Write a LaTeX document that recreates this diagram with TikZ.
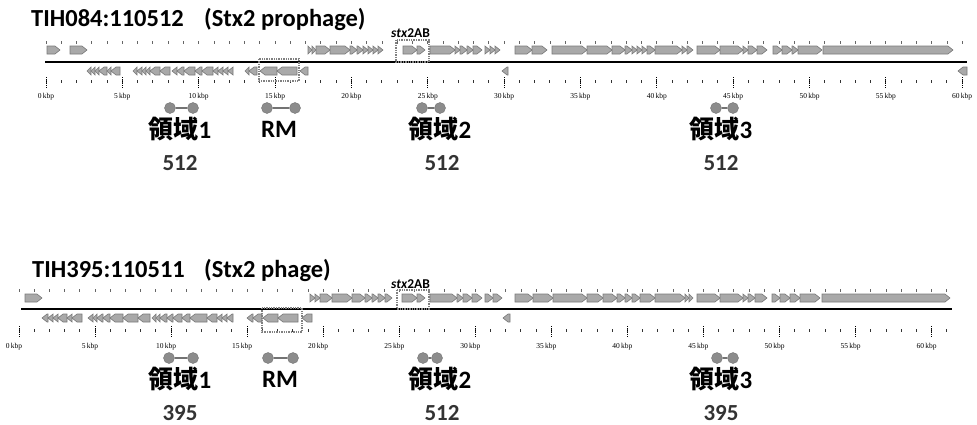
\documentclass[tikz,border=0pt]{standalone}
\usepackage{fontspec}
\setmainfont{Carlito}
\newfontfamily\cjk{Noto Sans CJK JP}
\newfontfamily\kbpfont{Liberation Serif}
\definecolor{genefill}{HTML}{A9A9A9}
\definecolor{geneline}{HTML}{7A7A7A}
\definecolor{dotgray}{HTML}{8C8C8C}
\definecolor{boxgray}{HTML}{808080}
\tikzset{
  gene/.style={fill=genefill,draw=geneline,line width=0.6pt},
  axisline/.style={line width=2.2pt,black},
  updot/.style={line width=0.8pt,black!60},
  minortick/.style={line width=0.9pt,black!80},
  majortick/.style={line width=1pt,black,densely dotted},
  kbp/.style={font=\kbpfont\fontsize{7.5}{8}\selectfont,inner sep=0pt},
  regionbox/.style={draw=boxgray,line width=1.4pt,densely dotted},
  dumb/.style={circle,fill=dotgray,draw=black!55,line width=0.4pt,minimum size=11pt,inner sep=0pt},
  dumbbar/.style={line width=2.2pt,black!55},
  title/.style={font=\fontsize{24.5}{28}\selectfont\bfseries,anchor=base west,inner sep=0pt},
  stxlab/.style={font=\fontsize{13.5}{15}\selectfont\bfseries,anchor=base west,inner sep=0pt},
  reglab/.style={font=\fontsize{25}{29}\selectfont\bfseries,inner sep=0pt},
  numlab/.style={font=\fontsize{23}{27}\selectfont\bfseries,text=black!80,inner sep=0pt,anchor=base}
}
\newcommand\fg[3]{%
  \pgfmathsetmacro\gA{min(5,#2-#1)}%
  \draw[gene] (#1,#3-4) -- (#2-\gA,#3-4) -- (#2,#3) -- (#2-\gA,#3+4) -- (#1,#3+4) -- cycle;}
\newcommand\rg[3]{%
  \pgfmathsetmacro\gA{min(5,#2-#1)}%
  \draw[gene] (#1,#3) -- (#1+\gA,#3-4) -- (#2,#3-4) -- (#2,#3+4) -- (#1+\gA,#3+4) -- cycle;}
\begin{document}
\begin{tikzpicture}[x=1pt,y=-1pt]
\useasboundingbox[fill=white] (0,0) rectangle (977,424);

% ================= TOP TRACK =================
\node[title] (t1a) at (31,26) {TIH084:110512};
\node[title] (t1b) at (204,26) {(Stx2 prophage)};
\node[stxlab] (stx1) at (391,37) {\textit{stx}2AB};

\foreach \k in {0,...,60} {
  \pgfmathsetmacro\xx{46+15.27*\k}
  \draw[updot] (\xx,41) -- (\xx,43.5);
  \draw[minortick] (\xx,80) -- (\xx,83);
}
\foreach \k in {0,5,...,60} {
  \pgfmathsetmacro\xx{46+15.27*\k}
  \draw[majortick] (\xx,77) -- (\xx,89);
  \node[kbp] at (\xx,97) {\k\,kbp};
}
\draw[axisline] (45,62) -- (967,62);

\foreach \a/\b in {47/60,70/87,308/312,312/316,316/330,330/350,350/357,357/363,363/368,368/373,373/378,378/383,
  403/417,417/425,430/455,455/460,460/467,467/473,473/482,485/490,490/495,495/500,515/532,532/547,552/587,587/612,612/625,625/632,
  632/637,637/642,642/647,647/655,655/682,682/687,687/693,697/720,720/743,743/748,748/757,757/767,773/782,782/792,792/798,798/822,823/953}
  {\fg{\a}{\b}{50}}
\foreach \a/\b in {87/91,91/95,95/99,99/107,107/111,111/120,133/137,137/142,142/146,146/150,150/160,160/170,172/177,177/184,184/195,195/202,202/213,213/218,218/223,223/228,228/233,
  245/249,249/257,260/277,277/297,300/308,502/508,958/967}
  {\rg{\a}{\b}{71}}

\draw[regionbox] (396,40) rectangle (429,62);
\draw[regionbox] (259,59) rectangle (299,81);

\node[dumb] (d1a) at (170,108) {};
\node[dumb] (d1b) at (193,108) {};
\node[dumb] (d1c) at (267,108) {};
\node[dumb] (d1d) at (295,108) {};
\node[dumb] (d1e) at (422,108) {};
\node[dumb] (d1f) at (440,108) {};
\node[dumb] (d1g) at (716,108) {};
\node[dumb] (d1h) at (733,108) {};
\draw[dumbbar] (d1a) -- (d1b);
\draw[dumbbar] (d1c) -- (d1d);
\draw[dumbbar] (d1e) -- (d1f);
\draw[dumbbar] (d1g) -- (d1h);

\node[reglab] (r11) at (180,129) {{\cjk 領域}1};
\node[reglab] (r1m) at (279,129) {RM};
\node[reglab] (r12) at (440,129) {{\cjk 領域}2};
\node[reglab] (r13) at (721,129) {{\cjk 領域}3};
\node[numlab] (n11) at (180,170) {512};
\node[numlab] (n12) at (442,170) {512};
\node[numlab] (n13) at (721,170) {512};

% ================= BOTTOM TRACK =================
\node[title] (t2a) at (32,277) {TIH395:110511};
\node[title] (t2b) at (204,277) {(Stx2 phage)};
\node[stxlab] (stx2) at (391,288) {\textit{stx}2AB};

\foreach \k in {0,...,61} {
  \pgfmathsetmacro\xx{19+15.21*\k}
  \draw[updot] (\xx,289) -- (\xx,291.5);
  \draw[minortick] (\xx,329) -- (\xx,332);
}
\foreach \k in {0,5,...,60} {
  \pgfmathsetmacro\xx{19+15.21*\k}
  \draw[majortick] (\xx,326) -- (\xx,338);
  \node[kbp] at (\xx-5,347) {\k\,kbp};
}
\draw[axisline] (21,309) -- (952,309);

\foreach \a/\b in {25/42,310/315,315/320,320/332,332/352,352/365,365/372,372/378,378/385,385/392,
  402/417,417/425,430/457,457/463,463/472,472/482,485/493,493/502,515/533,533/553,553/587,587/603,603/617,617/625,625/632,
  632/640,640/655,655/685,685/689,689/693,697/720,720/743,743/748,748/755,755/767,772/780,780/790,790/800,800/820,822/950}
  {\fg{\a}{\b}{298}}
\foreach \a/\b in {42/48,48/53,53/58,58/67,67/72,72/82,88/93,93/97,97/103,103/110,110/123,123/138,138/150,152/156,156/160,160/167,167/173,173/182,182/190,190/207,207/217,217/222,222/227,227/233,
  247/253,253/262,263/278,278/298,302/312,503/510}
  {\rg{\a}{\b}{318}}

\draw[regionbox] (397,290) rectangle (429,309);
\draw[regionbox] (262,308) rectangle (302,332);

\node[dumb] (d2a) at (169,358) {};
\node[dumb] (d2b) at (193,358) {};
\node[dumb] (d2c) at (268,358) {};
\node[dumb] (d2d) at (293,358) {};
\node[dumb] (d2e) at (423,358) {};
\node[dumb] (d2f) at (437,358) {};
\node[dumb] (d2g) at (717,358) {};
\node[dumb] (d2h) at (733,358) {};
\draw[dumbbar] (d2a) -- (d2b);
\draw[dumbbar] (d2c) -- (d2d);
\draw[dumbbar] (d2e) -- (d2f);
\draw[dumbbar] (d2g) -- (d2h);

\node[reglab] (r21) at (180,379) {{\cjk 領域}1};
\node[reglab] (r2m) at (280,379) {RM};
\node[reglab] (r22) at (440,379) {{\cjk 領域}2};
\node[reglab] (r23) at (721,379) {{\cjk 領域}3};
\node[numlab] (n21) at (180,420) {395};
\node[numlab] (n22) at (442,420) {512};
\node[numlab] (n23) at (721,420) {395};
\end{tikzpicture}
\end{document}
